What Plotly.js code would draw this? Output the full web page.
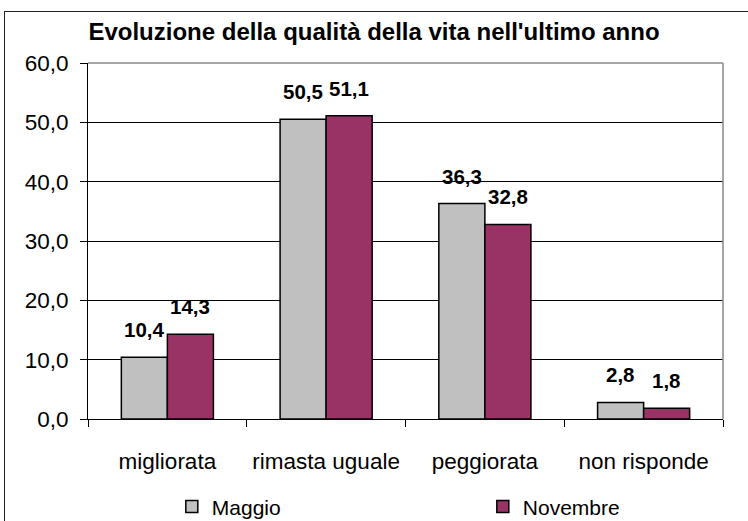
<!DOCTYPE html>
<html>
<head>
<meta charset="utf-8">
<script src="https://cdn.plot.ly/plotly-3.0.1.min.js"></script>
<style>
  body { margin: 0; background: #fff; }
  #chart { position: absolute; left: 0; top: 0; width: 748px; height: 521px; }
  #frame { position: absolute; left: 4px; top: 11px; width: 760px; height: 530px;
           border: 1.5px solid #222; pointer-events: none; }
</style>
</head>
<body>
<div id="chart"></div>
<div id="frame"></div>
<script>
var categories = ['migliorata', 'rimasta uguale', 'peggiorata', 'non risponde'];
var maggio = [10.4, 50.5, 36.3, 2.8];
var novembre = [14.3, 51.1, 32.8, 1.8];
var yTicks = [0, 10, 20, 30, 40, 50, 60];

const FONT = 'Liberation Sans, Arial, sans-serif';
const fmt = (v) => v.toFixed(1).replace('.', ',');

function barTrace(name, values, color) {
  return {
    type: 'bar',
    name: name,
    x: categories,
    y: values,
    marker: {color: color, line: {color: '#000', width: 1.5}},
    hoverinfo: 'none'
  };
}

// value labels sit well above the bars, like the spreadsheet original
function labels(values, shift) {
  return values.map((v, i) => ({
    x: categories[i], y: v, xref: 'x', yref: 'y',
    text: '<b>' + fmt(v) + '</b>',
    showarrow: false,
    xanchor: 'center', yanchor: 'bottom',
    xshift: shift, yshift: 14,
    font: {family: FONT, size: 20.5, color: '#000'}
  }));
}

var data = [
  barTrace('Maggio', maggio, '#c0c0c0'),
  barTrace('Novembre', novembre, '#993366')
];

var layout = {
  width: 748,
  height: 521,
  margin: {l: 88, r: 25, t: 63, b: 102, autoexpand: false},
  paper_bgcolor: '#fff',
  plot_bgcolor: '#fff',
  font: {family: FONT, size: 22.5, color: '#000'},
  title: {
    text: "<b>Evoluzione della qualità della vita nell'ultimo anno</b>",
    font: {size: 24},
    x: 0.5, xanchor: 'center', y: 0.94, yanchor: 'middle'
  },
  barmode: 'group',
  bargap: 0.42,
  bargroupgap: 0,
  showlegend: true,
  legend: {
    orientation: 'h',
    x: 0.132, xanchor: 'left',
    y: -0.247, yanchor: 'middle',
    entrywidth: 266, entrywidthmode: 'pixels',
    font: {size: 21},
    itemwidth: 30
  },
  xaxis: {
    showline: true, linecolor: '#000', linewidth: 1,
    ticks: 'outside', ticklen: 7, tickcolor: '#000',
    tickson: 'boundaries',
    ticklabelstandoff: 22,
    showgrid: false,
    tickfont: {size: 22.5}
  },
  yaxis: {
    range: [0, 60],
    tickvals: yTicks,
    ticktext: yTicks.map(fmt),
    showline: true, linecolor: '#000', linewidth: 1,
    ticks: 'outside', ticklen: 7, tickcolor: '#000',
    ticklabelstandoff: 7,
    showgrid: true, gridcolor: '#000', gridwidth: 1,
    zeroline: false,
    tickfont: {size: 22.5}
  },
  annotations: labels(maggio, -23).concat(labels(novembre, 23)),
  shapes: [
    {type: 'line', xref: 'paper', yref: 'paper', x0: 0, x1: 1, y0: 1, y1: 1,
     line: {color: '#888', width: 1.5}},
    {type: 'line', xref: 'paper', yref: 'paper', x0: 1, x1: 1, y0: 0, y1: 1,
     line: {color: '#888', width: 1.5}}
  ]
};

Plotly.newPlot('chart', data, layout, {displayModeBar: false, staticPlot: true});
</script>
</body>
</html>
